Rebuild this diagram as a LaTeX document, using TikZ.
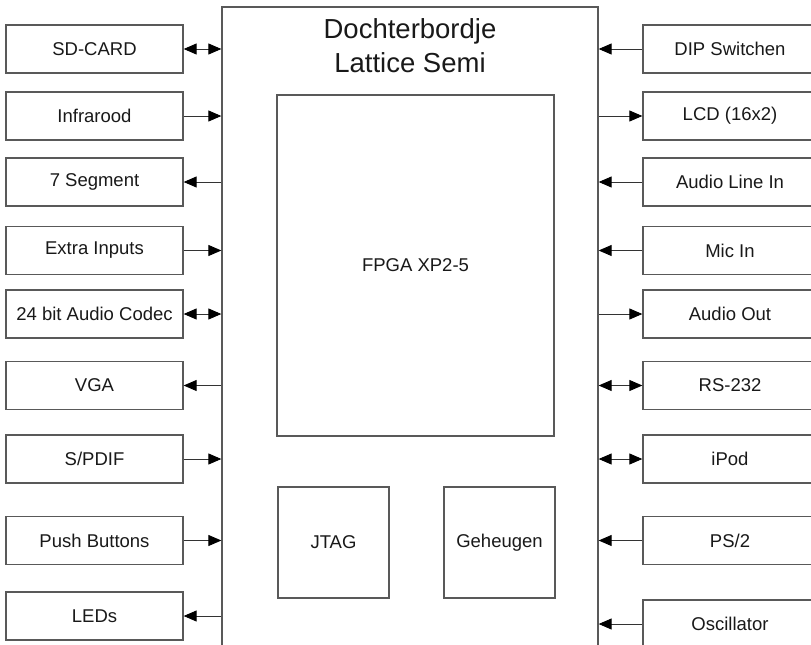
\documentclass[tikz,border=0pt]{standalone}
\usepackage{fontspec}
\setmainfont{Liberation Sans}
\usetikzlibrary{arrows.meta}
\begin{document}
\begin{tikzpicture}[x=1pt,y=-1pt,
  box/.style={draw=black!65,line width=1.3pt,rectangle,inner sep=0pt,font=\fontsize{18.5}{22}\selectfont,text=black!90},
  lbox/.style={box,minimum width=177pt,minimum height=48pt},
  rbox/.style={box,minimum width=174pt,minimum height=48pt},
  tip/.tip={Triangle[length=13pt,width=11pt,color=black]},
  arr/.style={draw=black!80,line width=0.9pt,-tip},
  darr/.style={draw=black!80,line width=0.9pt,tip-tip},
  rarr/.style={draw=black!80,line width=0.9pt,tip-}]
\clip (0,0) rectangle (811,645);
\fill[white] (0,0) rectangle (811,645);
% main board
\node[box,minimum width=376pt,minimum height=693pt] (main) at (410,353.5) {};
\node[font=\fontsize{27.5}{34}\selectfont,align=center,text=black!90] (title) at (410,46) {Dochterbordje\\Lattice Semi};
\node[box,minimum width=277pt,minimum height=341pt] (fpga) at (415.5,265.5) {FPGA XP2-5};
\node[box,minimum width=111pt,minimum height=111pt] (jtag) at (333.5,542.5) {JTAG};
\node[box,minimum width=111pt,minimum height=111pt] (mem) at (499.5,542.5) {Geheugen};
% left
\node[lbox] (sd) at (94.5,49) {SD-CARD};
\node[lbox] (ir) at (94.5,116) {Infrarood};
\node[lbox] (seg) at (94.5,182) {7 Segment};
\node[lbox] (ext) at (94.5,250.5) {Extra Inputs};
\node[lbox] (codec) at (94.5,314) {24 bit Audio Codec};
\node[lbox] (vga) at (94.5,385.5) {VGA};
\node[lbox] (spdif) at (94.5,459) {S/PDIF};
\node[lbox] (push) at (94.5,540.5) {Push Buttons};
\node[lbox] (leds) at (94.5,616) {LEDs};
% right
\node[rbox] (dip) at (730,49) {DIP Switchen};
\node[rbox] (lcd) at (730,116) {LCD (16x2)};
\node[rbox] (ali) at (730,182) {Audio Line In};
\node[rbox] (mic) at (730,250.5) {Mic In};
\node[rbox] (aout) at (730,314) {Audio Out};
\node[rbox] (rs) at (730,385.5) {RS-232};
\node[rbox] (ipod) at (730,459) {iPod};
\node[rbox] (ps) at (730,540.5) {PS/2};
\node[rbox] (osc) at (730,624) {Oscillator};
% left connectors
\draw[darr] (sd.east) -- (sd.east -| main.west);
\draw[arr] (ir.east) -- (ir.east -| main.west);
\draw[rarr] (seg.east) -- (seg.east -| main.west);
\draw[arr] (ext.east) -- (ext.east -| main.west);
\draw[darr] (codec.east) -- (codec.east -| main.west);
\draw[rarr] (vga.east) -- (vga.east -| main.west);
\draw[arr] (spdif.east) -- (spdif.east -| main.west);
\draw[arr] (push.east) -- (push.east -| main.west);
\draw[rarr] (leds.east) -- (leds.east -| main.west);
% right connectors
\draw[arr] (dip.west) -- (dip.west -| main.east);
\draw[rarr] (lcd.west) -- (lcd.west -| main.east);
\draw[arr] (ali.west) -- (ali.west -| main.east);
\draw[arr] (mic.west) -- (mic.west -| main.east);
\draw[rarr] (aout.west) -- (aout.west -| main.east);
\draw[darr] (rs.west) -- (rs.west -| main.east);
\draw[darr] (ipod.west) -- (ipod.west -| main.east);
\draw[arr] (ps.west) -- (ps.west -| main.east);
\draw[arr] (osc.west) -- (osc.west -| main.east);
\end{tikzpicture}
\end{document}
